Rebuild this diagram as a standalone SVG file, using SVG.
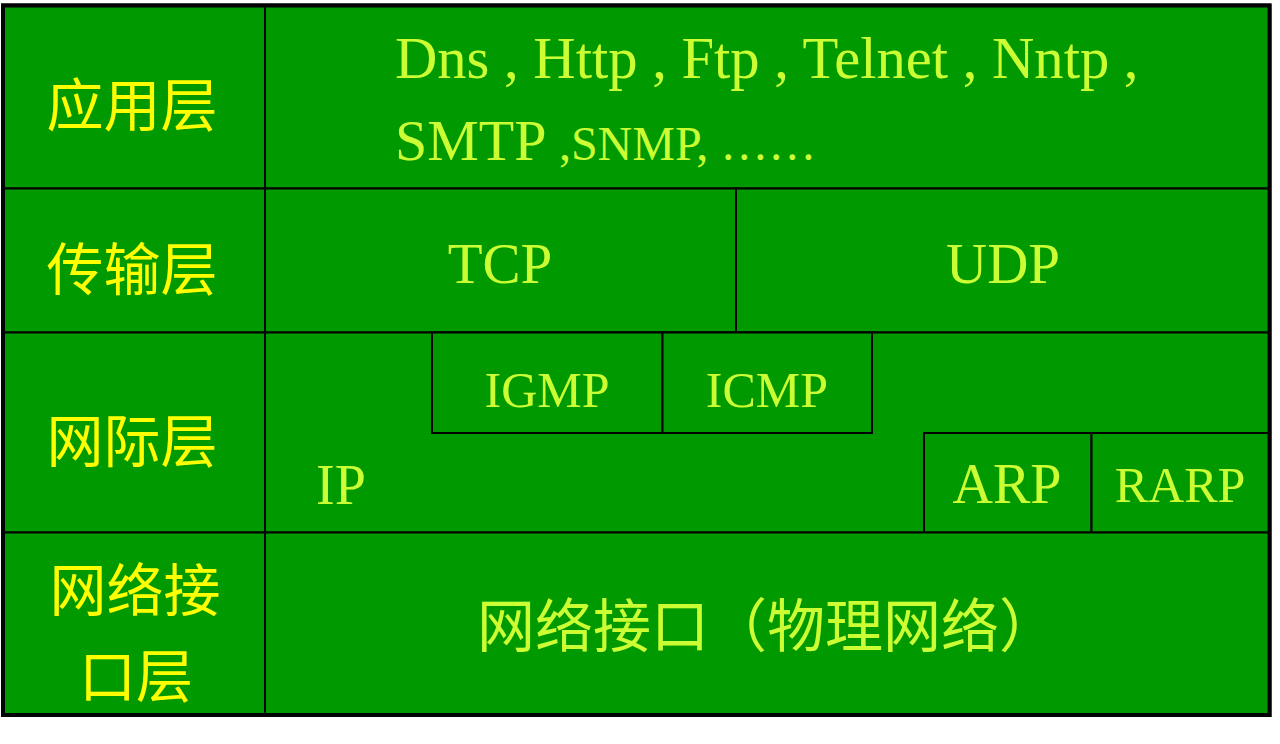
<svg xmlns="http://www.w3.org/2000/svg" width="1280" height="744" viewBox="0 0 1280 744">
<style>
.cell{fill:#009900;stroke:#000;stroke-width:2}
.lbl{font-family:"Noto Sans CJK SC","Noto Sans CJK JP",sans-serif;fill:#FFFF00;font-size:57px;text-anchor:middle}
.en{font-family:"Liberation Serif","Times New Roman",serif;fill:#CCFF33}
.zh{font-family:"Noto Sans CJK SC",sans-serif;fill:#CCFF33}
</style>
<rect x="0" y="0" width="1280" height="744" fill="#fff"/>
<rect x="3" y="5.5" width="1266.5" height="709.5" fill="#009900" stroke="#000" stroke-width="4"/>
<g id="row-app">
  <rect class="cell" x="3" y="5.5" width="262" height="183"/>
  <text class="lbl" x="132" y="126">应用层</text>
  <rect class="cell" x="265" y="5.5" width="1004.5" height="183"/>
  <text class="en" x="395" y="78" font-size="58.6">Dns , Http , Ftp , Telnet , Nntp ,</text>
  <text class="en" x="395" y="160" font-size="58">SMTP <tspan font-size="48">,SNMP, ……</tspan></text>
</g>
<g id="row-transport">
  <rect class="cell" x="3" y="188.5" width="262" height="144"/>
  <text class="lbl" x="132" y="290">传输层</text>
  <g id="tcp">
    <rect class="cell" x="265" y="188.5" width="471" height="144"/>
    <text class="en" x="500" y="283" font-size="57" text-anchor="middle">TCP</text>
  </g>
  <g id="udp">
    <rect class="cell" x="736" y="188.5" width="533.5" height="144"/>
    <text class="en" x="1003" y="283" font-size="57" text-anchor="middle">UDP</text>
  </g>
</g>
<g id="row-internet">
  <rect class="cell" x="3" y="332.5" width="262" height="200"/>
  <text class="lbl" x="132" y="462">网际层</text>
  <g id="ip">
    <rect class="cell" x="265" y="332.5" width="1004.5" height="200"/>
    <text class="en" x="341" y="504" font-size="56" text-anchor="middle">IP</text>
  </g>
  <g id="igmp">
    <rect class="cell" x="432" y="332.5" width="230.5" height="100.5"/>
    <text class="en" x="547" y="407" font-size="50" text-anchor="middle">IGMP</text>
  </g>
  <g id="icmp">
    <rect class="cell" x="662.5" y="332.5" width="209.5" height="100.5"/>
    <text class="en" x="767" y="407" font-size="50" text-anchor="middle">ICMP</text>
  </g>
  <g id="arp">
    <rect class="cell" x="924" y="433" width="167.5" height="99.5"/>
    <text class="en" x="1007" y="503" font-size="56" text-anchor="middle">ARP</text>
  </g>
  <g id="rarp">
    <rect class="cell" x="1091.5" y="433" width="178" height="99.5"/>
    <text class="en" x="1180" y="502" font-size="50" text-anchor="middle">RARP</text>
  </g>
</g>
<g id="row-link">
  <rect class="cell" x="3" y="532.5" width="262" height="182.5"/>
  <text class="lbl" x="135" y="611">网络接</text>
  <text class="lbl" x="136" y="697">口层</text>
  <rect class="cell" x="265" y="532.5" width="1004.5" height="182.5"/>
  <text class="zh" x="767" y="647" font-size="58" text-anchor="middle">网络接口（物理网络）</text>
</g>
<g id="connectors"></g>
<rect x="3" y="5.5" width="1266.5" height="709.5" fill="none" stroke="#000" stroke-width="4"/>
</svg>
